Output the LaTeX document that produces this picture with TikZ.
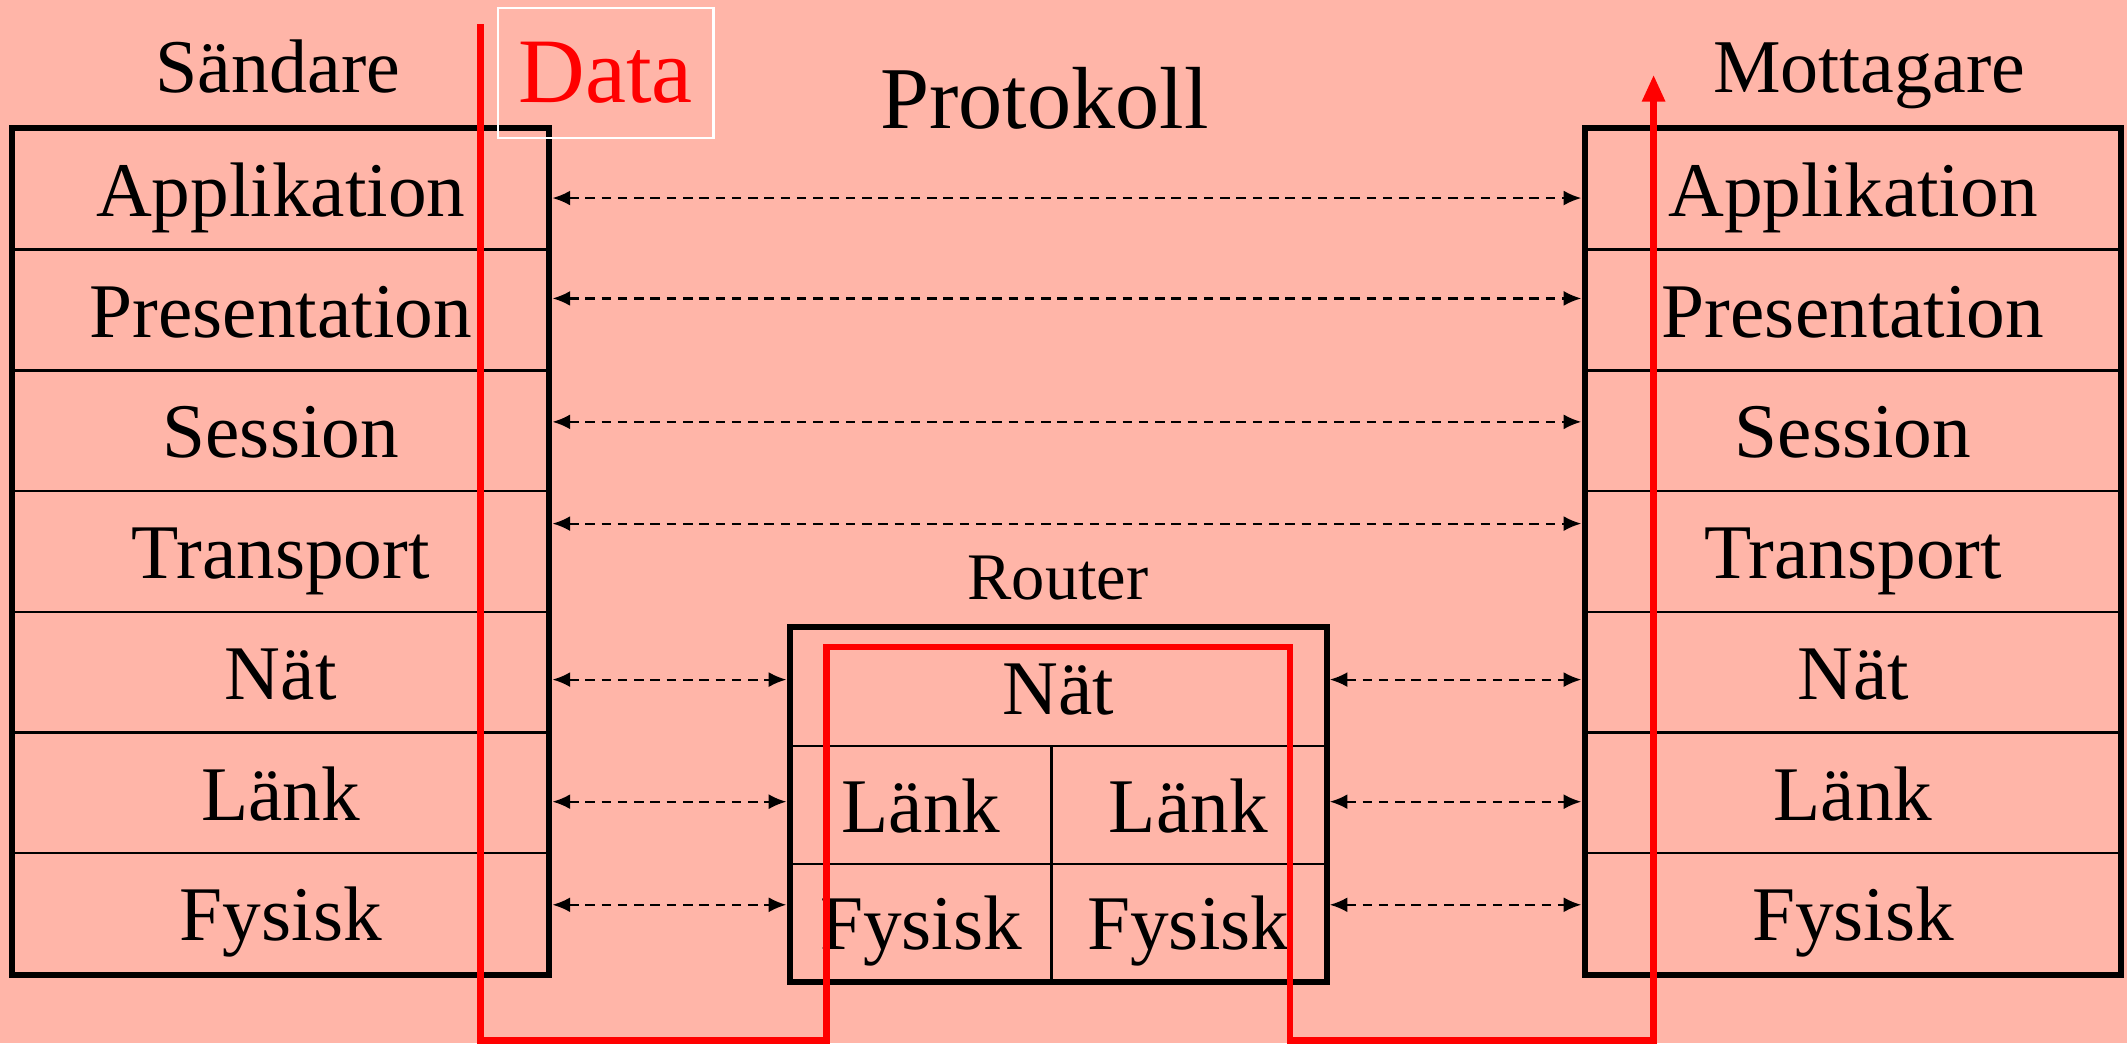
\documentclass[tikz,border=0pt]{standalone}
\usepackage{fontspec}
\setmainfont{Liberation Serif}
\usetikzlibrary{arrows.meta,calc}
\definecolor{bgpink}{RGB}{255,181,168}
\begin{document}
\begin{tikzpicture}[x=0.5pt,y=-0.5pt,
  layer/.style={draw,line width=0.9pt,minimum width=197pt,minimum height=44.5pt,inner sep=0pt,text height=20pt,text depth=0pt,font=\fontsize{28.5}{30}\selectfont},
  rlayer/.style={draw,line width=0.9pt,minimum height=43.5pt,inner sep=0pt,text height=20pt,text depth=0pt,font=\fontsize{28.5}{30}\selectfont},
  border/.style={line width=2.2pt,line join=miter},
  proto/.style={line width=0.8pt,dash pattern=on 3.5pt off 2.5pt,{Latex[length=6.5pt,width=5.5pt]}-{Latex[length=6.5pt,width=5.5pt]},shorten <=1.2pt,shorten >=1.2pt},
  dataflow/.style={draw=red,line width=2.5pt,line join=miter,-{Triangle[length=10pt,width=8pt]}},
  title/.style={anchor=base,inner sep=0pt,font=\fontsize{28}{30}\selectfont}]
\fill[bgpink] (0,0) rectangle (1568,769);
\useasboundingbox (0,0) rectangle (1568,769);

% sender
\node[layer] (s1) at (207,139.5) {Applikation};
\node[layer] (s2) at (207,228.5) {Presentation};
\node[layer] (s3) at (207,317.5) {Session};
\node[layer] (s4) at (207,406.5) {Transport};
\node[layer] (s5) at (207,495.5) {Nät};
\node[layer] (s6) at (207,584.5) {Länk};
\node[layer] (s7) at (207,673.5) {Fysisk};
\draw[border] (s1.north west) rectangle (s7.south east);

% receiver
\node[layer] (r1) at (1366,139.5) {Applikation};
\node[layer] (r2) at (1366,228.5) {Presentation};
\node[layer] (r3) at (1366,317.5) {Session};
\node[layer] (r4) at (1366,406.5) {Transport};
\node[layer] (r5) at (1366,495.5) {Nät};
\node[layer] (r6) at (1366,584.5) {Länk};
\node[layer] (r7) at (1366,673.5) {Fysisk};
\draw[border] (r1.north west) rectangle (r7.south east);

% router
\node[rlayer,minimum width=197pt] (rn) at (780,506.5) {Nät};
\node[rlayer,minimum width=96pt] (rl1) at (679,593.5) {Länk};
\node[rlayer,minimum width=101pt] (rl2) at (876,593.5) {Länk};
\node[rlayer,minimum width=96pt,minimum height=43pt] (rf1) at (679,680) {Fysisk};
\node[rlayer,minimum width=101pt,minimum height=43pt] (rf2) at (876,680) {Fysisk};
\draw[border] (rn.north west) rectangle (rf2.south east);

% titles
\node[title] (tS) at (205,68) {Sändare};
\node[title] (tM) at (1378,68) {Mottagare};
\node[anchor=base,inner sep=0pt,font=\fontsize{32.5}{34}\selectfont] (tP) at (770,95) {Protokoll};
\node[anchor=base,inner sep=0pt,font=\fontsize{24.5}{26}\selectfont] (tR) at (780,442) {Router};
\node[draw=white,line width=0.8pt,minimum width=79.5pt,minimum height=48pt,inner sep=0pt,text=red,font=\fontsize{34}{36}\selectfont] (data) at (446.5,54) {Data};

% protocol arrows
\coordinate (y1) at (0,146);
\coordinate (y2) at (0,220);
\coordinate (y3) at (0,311);
\coordinate (y4) at (0,386);
\coordinate (y5) at (0,501);
\coordinate (y6) at (0,591);
\coordinate (y7) at (0,667);
\draw[proto] (s1.east |- y1) -- (r1.west |- y1);
\draw[proto] (s2.east |- y2) -- (r2.west |- y2);
\draw[proto] (s3.east |- y3) -- (r3.west |- y3);
\draw[proto] (s4.east |- y4) -- (r4.west |- y4);
\draw[proto] (s5.east |- y5) -- (rn.west |- y5);
\draw[proto] (s6.east |- y6) -- (rn.west |- y6);
\draw[proto] (s7.east |- y7) -- (rn.west |- y7);
\draw[proto] (rn.east |- y5) -- (r5.west |- y5);
\draw[proto] (rn.east |- y6) -- (r6.west |- y6);
\draw[proto] (rn.east |- y7) -- (r7.west |- y7);

% data path
\coordinate (dstart) at (354,18);
\coordinate (dend) at (1219,55);
\draw[dataflow] (dstart) -- (354,767) -- (609,767) -- (609,477) -- (951,477) -- (951,767) -- (1219,767) -- (dend);
\end{tikzpicture}
\end{document}
